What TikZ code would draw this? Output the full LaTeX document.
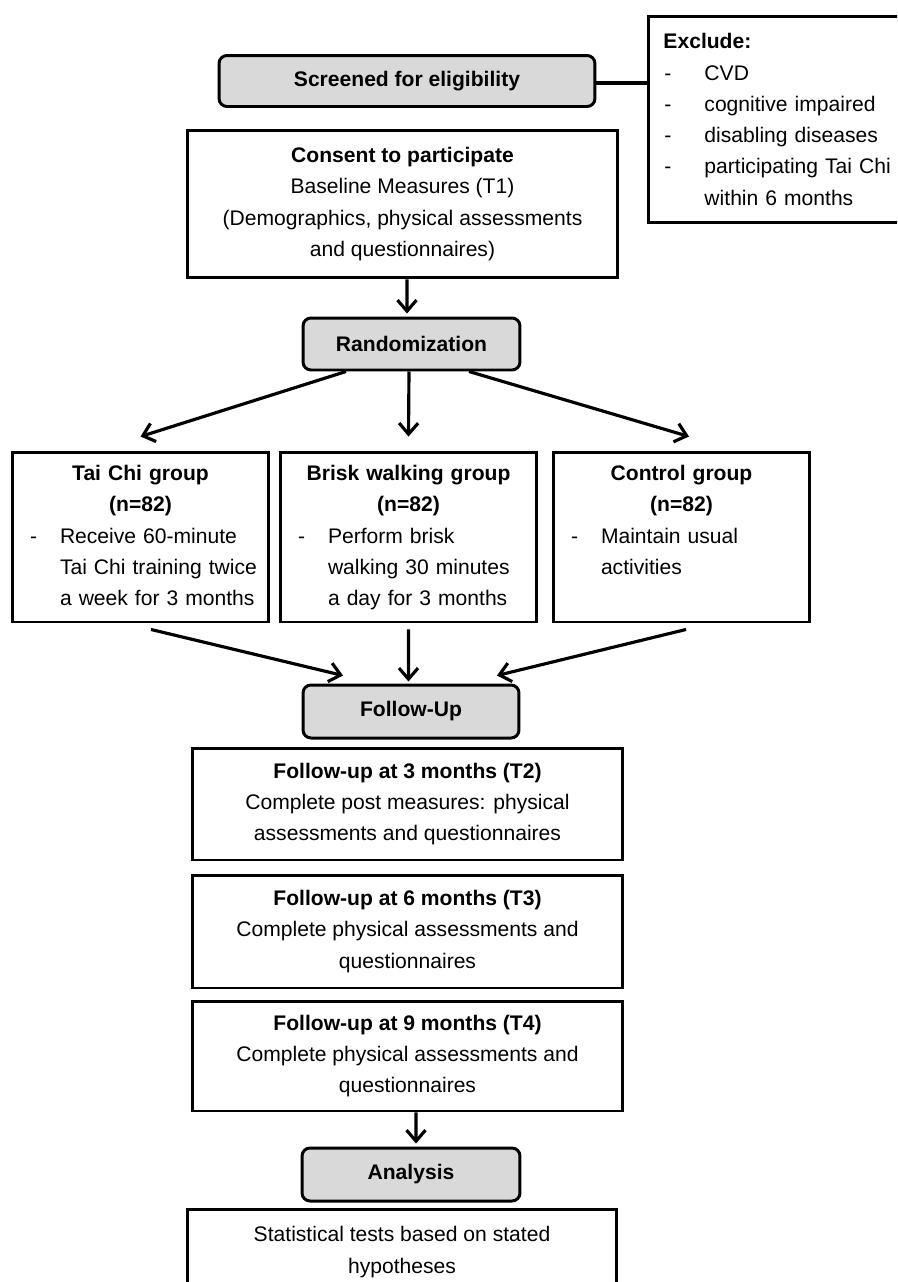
\documentclass[tikz,border=0pt]{standalone}
\usepackage{fontspec}
\setmainfont{Liberation Sans}
\usetikzlibrary{arrows.meta}
\definecolor{boxgray}{HTML}{D9D9D9}
\newcommand{\grpitem}[1]{\makebox[0.76cm][l]{\hspace{0.16cm}-}\mbox{#1}}
\newcommand{\grpcont}[1]{\hspace*{0.76cm}\mbox{#1}}
\newcommand{\excitem}[1]{\makebox[0.82cm][l]{\hspace{0.02cm}-}#1}
\tikzset{
  flowbox/.style={draw, line width=1.7pt, align=center, inner sep=0pt},
  stagebox/.style={flowbox, rounded corners=0.16cm, fill=boxgray, font=\bfseries},
  grpbox/.style={flowbox, align=left, text width=4.74cm, inner xsep=0.2cm, minimum height=3.4cm},
  arr/.style={-{Straight Barb[length=0.22cm,width=0.38cm]}, line width=1.8pt},
}
\begin{document}
\fontsize{12}{17.8}\selectfont
\begin{tikzpicture}[x=0.02cm, y=-0.02cm]
            \useasboundingbox (0,0) rectangle (897,1282);
            \clip (0,0) rectangle (897,1282);
            \node[stagebox, minimum width=7.52cm, minimum height=1.02cm] (screened) at (407,81) {Screened for eligibility};
            \node[flowbox, align=left, anchor=north west, text width=5.4cm, inner xsep=0.3cm, minimum height=4.12cm] (exclude) at (647,15)
                {\textbf{Exclude:}\\\excitem{CVD}\\\excitem{cognitive impaired}\\\excitem{disabling diseases}\\\excitem{participating Tai Chi}\\\hspace*{0.82cm}within 6 months};
            \draw[line width=1.8pt] ([yshift=-0.04cm]screened.east) -- ([yshift=-0.04cm]screened.east -| exclude.west);
            \node[flowbox, minimum width=8.62cm, minimum height=2.96cm] (consent) at (402.5,204)
                {\textbf{Consent to participate}\\Baseline Measures (T1)\\(Demographics, physical assessments\\and questionnaires)};
            \node[stagebox, minimum width=4.34cm, minimum height=1.04cm] (rand) at (411.5,344) {Randomization};
            \draw[arr] ([xshift=0.09cm]consent.south) -- ([xshift=-0.09cm,yshift=0.06cm]rand.north);
            \node[grpbox] (taichi) at (140.5,537)
                {{\centering\bfseries\strut Tai Chi group\\(n=82)\par}\grpitem{Receive 60-minute}\\\grpcont{Tai Chi training twice}\\\grpcont{a week for 3 months}\strut};
            \node[grpbox] (brisk) at (408.5,537)
                {{\centering\bfseries\strut Brisk walking group\\(n=82)\par}\grpitem{Perform brisk}\\\grpcont{walking 30 minutes}\\\grpcont{a day for 3 months}\strut};
            \node[grpbox] (control) at (681.5,537)
                {{\centering\bfseries\strut Control group\\(n=82)\par}\grpitem{Maintain usual}\\\grpcont{activities}\\\mbox{}\strut};
            \draw[arr] ([xshift=-1.31cm]rand.south) -- ([yshift=0.28cm]taichi.north);
            \draw[arr] ([xshift=-0.05cm]rand.south) -- ([yshift=0.28cm]brisk.north);
            \draw[arr] ([xshift=1.15cm]rand.south) -- ([xshift=0.15cm,yshift=0.28cm]control.north);
            \node[stagebox, minimum width=4.32cm, minimum height=1.06cm] (followup) at (411,711.5) {Follow-Up};
            \draw[arr] ([xshift=0.21cm,yshift=-0.12cm]taichi.south) -- ([xshift=-1.36cm,yshift=0.16cm]followup.north);
            \draw[arr] ([yshift=-0.12cm]brisk.south) -- ([xshift=-0.05cm,yshift=0.04cm]followup.north);
            \draw[arr] ([xshift=0.09cm,yshift=-0.12cm]control.south) -- ([xshift=1.72cm,yshift=0.16cm]followup.north);
            \node[flowbox, minimum width=8.62cm, minimum height=2.24cm] (t2) at (407.5,804)
                {\textbf{Follow-up at 3 months (T2)}\\Complete post measures: physical\\assessments and questionnaires};
            \node[flowbox, minimum width=8.62cm, minimum height=2.26cm] (t3) at (407.5,931.5)
                {\textbf{Follow-up at 6 months (T3)}\\Complete physical assessments and\\questionnaires};
            \node[flowbox, minimum width=8.62cm, minimum height=2.2cm] (t4) at (407.5,1056)
                {\textbf{Follow-up at 9 months (T4)}\\Complete physical assessments and\\questionnaires};
            \node[stagebox, minimum width=4.36cm, minimum height=1.06cm] (analysis) at (411,1174.5) {Analysis};
            \draw[arr] ([xshift=0.17cm]t4.south) -- ([xshift=0.1cm,yshift=0.06cm]analysis.north);
            \node[flowbox, minimum width=8.6cm, minimum height=1.72cm] (stats) at (402,1252)
                {Statistical tests based on stated\\hypotheses};
        \end{tikzpicture}
\end{document}
